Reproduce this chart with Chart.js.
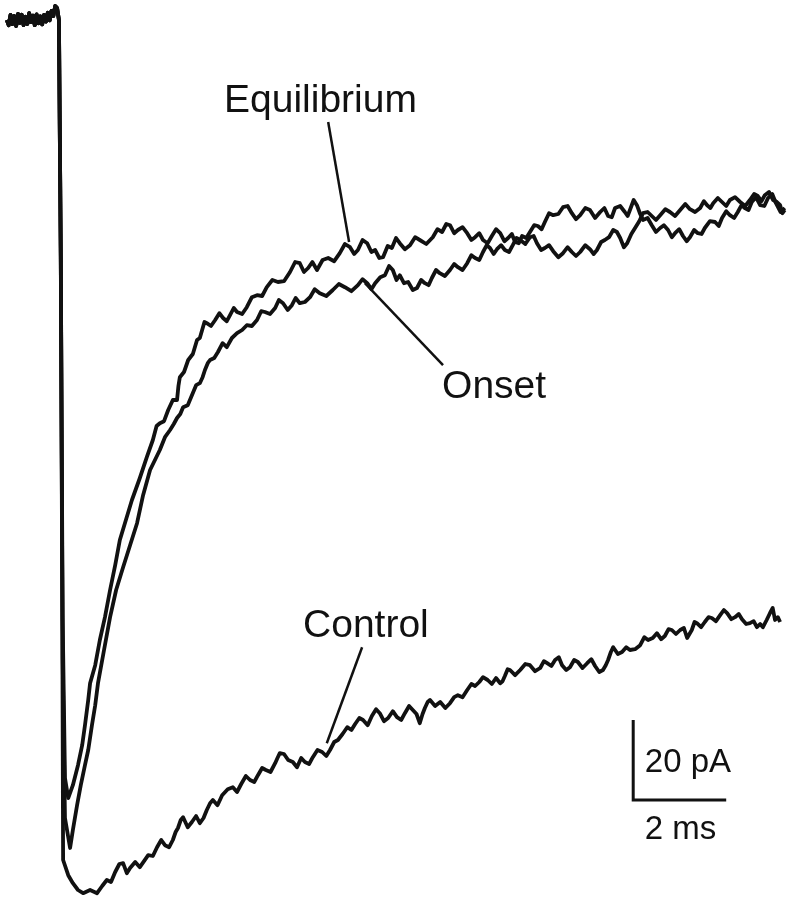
<!DOCTYPE html>
<html>
<head>
<meta charset="utf-8">
<script src="https://cdn.jsdelivr.net/npm/chart.js@4/dist/chart.umd.min.js"></script>
<style>
  body { margin: 0; background: #fff; }
  canvas { display: block; }
</style>
</head>
<body>
<canvas id="traceChart" width="788" height="899"></canvas>
<script>
// time in ms (0 = step), current in pA (0 = holding baseline)
const baseTime    = [-1.10, -1.06, -1.02, -0.98, -0.94, -0.90, -0.86, -0.82, -0.78, -0.74, -0.70, -0.66, -0.62, -0.58, -0.54, -0.50, -0.46, -0.42, -0.38, -0.34, -0.30, -0.26, -0.22, -0.18, -0.14, -0.10, -0.06, -0.02, 0.02];
const baseCurrent = [-0.5, -1.8, 0.8, -1.5, 0.5, -2.0, 1.0, -1.2, 0.8, -1.8, 0.3, -1.5, 1.2, -1.0, 0.6, -1.8, 0.9, -1.3, 0.4, -1.6, 0.8, -0.9, 1.3, -0.6, 1.8, 0.5, 3.0, 2.5, -0.5];

const eqTime = [0.06, 0.10, 0.15, 0.22, 0.32, 0.43, 0.52, 0.58, 0.65, 0.69, 0.80, 0.90, 1.01, 1.12, 1.23, 1.33, 1.46, 1.59, 1.76, 1.91,
    2.04, 2.12, 2.19, 2.28, 2.37, 2.47, 2.56, 2.59, 2.62, 2.71, 2.80, 2.90, 2.99, 3.05, 3.10, 3.15, 3.20, 3.29, 3.38, 3.47,
    3.55, 3.63, 3.70, 3.78, 3.85, 3.96, 4.06, 4.17, 4.28, 4.39, 4.49, 4.61, 4.73, 4.86, 4.99, 5.10, 5.20, 5.29, 5.38, 5.47,
    5.57, 5.69, 5.81, 5.94, 6.06, 6.17, 6.28, 6.37, 6.45, 6.55, 6.65, 6.74, 6.82, 6.91, 6.99, 7.09, 7.18, 7.27, 7.35, 7.46,
    7.57, 7.68, 7.78, 7.92, 8.06, 8.16, 8.26, 8.35, 8.43, 8.52, 8.60, 8.70, 8.80, 8.89, 8.97, 9.06, 9.14, 9.24, 9.33, 9.42,
    9.51, 9.60, 9.68, 9.76, 9.83, 9.91, 9.98, 10.07, 10.15, 10.24, 10.32, 10.40, 10.47, 10.56, 10.65, 10.76, 10.86, 10.96, 11.05, 11.14,
    11.23, 11.34, 11.44, 11.55, 11.66, 11.75, 11.83, 11.91, 11.98, 12.09, 12.19, 12.25, 12.30, 12.38, 12.45, 12.52, 12.58, 12.68, 12.77, 12.86,
    12.95, 13.03, 13.12, 13.20, 13.27, 13.36, 13.44, 13.52, 13.59, 13.68, 13.76, 13.84, 13.91, 14.02, 14.13, 14.21, 14.28, 14.37, 14.45, 14.54,
    14.62, 14.70, 14.77, 14.85, 14.92, 15.01, 15.10, 15.19, 15.27, 15.36, 15.44, 15.54, 15.63];
const eqCurrent = [-60, -150, -190, -195, -191.8, -186.8, -181.8, -176.8, -170.5, -166.3, -161.8, -155.5, -149.8, -143, -136.8, -130.5, -125.5, -120.5, -115, -109.8,
    -105.5, -102.0, -101.3, -100.8, -98, -95.5, -95.5, -92.0, -89.8, -88.5, -85.5, -84.0, -80.5, -80.0, -78, -76.0, -76.3, -77.0, -75.5, -73.8,
    -75, -75.8, -74.3, -72.5, -73.5, -74.0, -72.3, -69.8, -69.3, -69.5, -67.3, -65.5, -66, -65.8, -63.5, -61.0, -61.3, -63.5, -62.5, -61.0,
    -63, -60.5, -60, -60.8, -58.8, -56.5, -57.3, -59.0, -58, -55.5, -56.3, -58.5, -58, -60.0, -59.8, -57.0, -57.5, -55.0, -56.3, -57.8,
    -56.8, -54.8, -55.5, -56.5, -54.8, -52.8, -53.5, -51.5, -51.8, -53.8, -53, -52.3, -53.8, -55.5, -54.8, -53.8, -55.5, -56.3, -54.5, -52.8,
    -53.8, -55.8, -55, -54.0, -56, -56.3, -54.5, -55.0, -53.5, -51.8, -52, -52.8, -51, -48.8, -49.3, -49.0, -47.3, -47.0, -48.8, -50.3,
    -49.3, -47.5, -48, -50.0, -48.5, -47.5, -49.5, -49.8, -47.5, -47.0, -48.5, -49.5, -48, -45.5, -46.8, -49.0, -50.5, -50.0, -51.8, -53.5,
    -52.5, -51.8, -53, -54.8, -53.8, -52.8, -54.5, -55.8, -54.8, -53.0, -53.8, -54.0, -52.5, -50.8, -51, -52.0, -50, -48.3, -49.3, -50.0,
    -48.5, -46.8, -47.5, -48.0, -46, -44.8, -46.8, -47.0, -45, -44.0, -46.3, -48.5, -47.5];

const onTime = [0.06, 0.10, 0.15, 0.26, 0.32, 0.41, 0.49, 0.58, 0.65, 0.73, 0.80, 0.86, 0.99, 1.12, 1.25, 1.40, 1.55, 1.70, 1.83, 1.98,
    2.19, 2.30, 2.41, 2.49, 2.56, 2.63, 2.69, 2.79, 2.88, 2.97, 3.05, 3.11, 3.16, 3.22, 3.27, 3.36, 3.44, 3.54, 3.63, 3.74,
    3.85, 3.96, 4.06, 4.17, 4.28, 4.37, 4.45, 4.56, 4.67, 4.75, 4.84, 4.94, 5.03, 5.11, 5.20, 5.31, 5.42, 5.52, 5.63, 5.77,
    5.91, 6.04, 6.17, 6.31, 6.45, 6.55, 6.65, 6.74, 6.82, 6.93, 7.03, 7.12, 7.20, 7.28, 7.35, 7.44, 7.53, 7.63, 7.72, 7.81,
    7.89, 7.97, 8.04, 8.13, 8.21, 8.32, 8.43, 8.52, 8.60, 8.70, 8.80, 8.89, 8.97, 9.06, 9.14, 9.22, 9.29, 9.37, 9.44, 9.53,
    9.61, 9.70, 9.78, 9.86, 9.94, 10.05, 10.15, 10.23, 10.30, 10.39, 10.47, 10.56, 10.65, 10.76, 10.86, 10.96, 11.05, 11.14, 11.23, 11.34,
    11.44, 11.52, 11.59, 11.68, 11.76, 11.85, 11.94, 12.02, 12.09, 12.17, 12.24, 12.33, 12.41, 12.50, 12.58, 12.68, 12.77, 12.86, 12.95, 13.06,
    13.16, 13.27, 13.38, 13.49, 13.59, 13.70, 13.81, 13.89, 13.96, 14.03, 14.09, 14.19, 14.28, 14.37, 14.45, 14.56, 14.67, 14.78, 14.88, 14.97,
    15.05, 15.13, 15.20, 15.29, 15.38, 15.46, 15.53, 15.58, 15.63];
const onCurrent = [-60, -160, -200, -207.5, -203, -196.8, -191.8, -186.8, -183, -176.8, -171.8, -166.3, -158, -149.8, -143, -137.3, -131.8, -126.3, -119.3, -113,
    -108, -104.8, -103, -101.5, -100, -99.0, -97.3, -96.8, -94.3, -91.8, -91.3, -89.8, -88, -86.3, -85.5, -85.0, -83.5, -81.3, -82.3, -80.0,
    -78.8, -78.0, -76.8, -77.0, -75.5, -73.3, -73.5, -74.0, -72.5, -70.5, -71.3, -73.0, -71.8, -70.0, -71.3, -71.0, -69.8, -67.8, -68.8, -69.5,
    -68, -66.5, -67.3, -68.3, -66.8, -65.3, -66.3, -67.8, -66.3, -64.8, -64.3, -62.0, -63, -65.5, -64.3, -66.3, -66, -68.0, -67.5, -65.5,
    -66.3, -66.8, -65, -63.0, -63.8, -64.5, -63, -61.5, -62.3, -63.0, -61.3, -59.3, -60, -60.5, -58.5, -56.8, -57.5, -59.0, -57.8, -56.8,
    -58, -58.5, -56.8, -55.0, -55.5, -56.5, -54.8, -54.5, -56.3, -58.0, -57.5, -56.8, -58.3, -59.8, -58.8, -57.3, -58.5, -59.5, -58.5, -56.8,
    -57.8, -59.0, -58, -56.0, -55.5, -54.8, -53, -53.5, -55, -57.3, -56.3, -54.0, -52.5, -50.8, -48.8, -48.5, -49.5, -50.5, -49.3, -47.8,
    -48.5, -49.5, -48, -46.5, -47.8, -48.5, -47.5, -45.8, -46.8, -47.5, -46.3, -45.0, -46, -47.0, -45.5, -44.8, -46, -47.0, -45.5, -44.0,
    -44.5, -45.8, -44.3, -43.5, -45.5, -46.0, -46.8, -48.8, -48];

const ctlTime = [0.06, 0.09, 0.11, 0.22, 0.32, 0.43, 0.54, 0.69, 0.84, 0.95,
    1.05, 1.14, 1.23, 1.32, 1.40, 1.48, 1.55, 1.66, 1.76, 1.85, 1.94, 2.04, 2.13, 2.22, 2.30, 2.39, 2.47, 2.53, 2.58, 2.64,
    2.69, 2.79, 2.88, 2.97, 3.05, 3.13, 3.20, 3.27, 3.33, 3.43, 3.53, 3.65, 3.76, 3.85, 3.94, 4.04, 4.13, 4.22, 4.30, 4.39,
    4.47, 4.57, 4.67, 4.72, 4.77, 4.86, 4.95, 5.05, 5.14, 5.23, 5.31, 5.40, 5.48, 5.58, 5.68, 5.77, 5.85, 5.94, 6.02, 6.12,
    6.22, 6.31, 6.39, 6.48, 6.56, 6.66, 6.75, 6.84, 6.92, 7.01, 7.10, 7.20, 7.29, 7.38, 7.46, 7.55, 7.63, 7.71, 7.78, 7.84,
    7.89, 7.95, 8.00, 8.11, 8.22, 8.33, 8.43, 8.52, 8.60, 8.70, 8.80, 8.89, 8.97, 9.06, 9.14, 9.24, 9.33, 9.42, 9.51, 9.56,
    9.61, 9.67, 9.72, 9.83, 9.94, 10.05, 10.15, 10.26, 10.37, 10.45, 10.52, 10.61, 10.69, 10.77, 10.84, 10.93, 11.01, 11.10, 11.18, 11.28,
    11.38, 11.47, 11.55, 11.64, 11.72, 11.78, 11.83, 11.89, 11.94, 12.04, 12.13, 12.22, 12.30, 12.41, 12.52, 12.61, 12.69, 12.79, 12.88, 12.97,
    13.05, 13.13, 13.20, 13.29, 13.38, 13.46, 13.53, 13.58, 13.63, 13.69, 13.74, 13.83, 13.91, 13.99, 14.06, 14.15, 14.24, 14.32, 14.39, 14.48,
    14.56, 14.64, 14.71, 14.80, 14.88, 14.96, 15.03, 15.10, 15.16, 15.24, 15.31, 15.37, 15.42, 15.48, 15.53];
const ctlCurrent = [-60, -140, -210.5, -214.3, -216.3, -218, -218.8, -218, -218.8, -217,
    -215.5, -216.0, -213.5, -211.5, -211.3, -213.8, -212.5, -211.0, -212.3, -210.8, -209.3, -209.5, -207.3, -205.5, -206.8, -207.3, -205.5, -203.5, -202.5, -200.5,
    -199.8, -202.3, -201, -199.5, -201.3, -200.0, -198, -196.3, -195.5, -196.8, -194.3, -192.8, -192.3, -193.5, -191.5, -189.5, -190.5, -191.0, -189.3, -187.5,
    -188, -188.5, -186.3, -185.0, -183.8, -184.0, -185.5, -186.0, -187.3, -185.0, -186, -186.5, -184.8, -183.0, -183.5, -184.5, -183, -181.0, -180.5, -179.0,
    -177.3, -178.0, -176.5, -175.0, -175.5, -176.8, -174.5, -172.8, -173.8, -175.8, -175, -173.3, -174.8, -175.5, -173.8, -172.0, -173, -174.0, -176.3, -174.0,
    -172.5, -171.0, -170.5, -172.0, -171, -172.5, -171.3, -169.8, -169.3, -169.8, -168, -166.5, -167, -166.0, -164.8, -165.5, -166.5, -165.0, -166.3, -165.8,
    -164.5, -162.8, -163, -164.3, -163, -161.5, -161.8, -163.3, -162.5, -160.8, -161.3, -162.0, -160.5, -159.8, -161.8, -163.0, -162.3, -160.5, -161, -162.5,
    -161.3, -160.3, -162, -163.5, -163, -161.8, -160.5, -158.5, -157.3, -159.0, -158.5, -157.3, -158, -157.8, -156.8, -154.8, -155.5, -155.0, -153.8, -155.3,
    -154.5, -152.8, -153, -154.0, -153, -152.5, -155, -154.0, -153, -151.0, -151.3, -152.3, -151, -149.8, -150, -150.8, -149.3, -148.0, -148.8, -150.3,
    -149.8, -149.0, -150.3, -151.5, -151.3, -150.8, -152.3, -151.5, -152.3, -150.5, -148.8, -147.5, -150.5, -149.8, -151];

// labels: text, anchor time (ms), anchor current (pA), leader line end points
const labelNames = ['Equilibrium', 'Onset', 'Control'];
const labelTime = [3.57, 8.26, 5.27];
const labelCurrent = [-23.5, -95, -154.8];
const leaderFrom = [[5.81, -26], [8.28, -86.8], [6.54, -157.3]];
const leaderTo = [[6.26, -56], [6.60, -66.3], [5.78, -181.3]];

// scale bar
const barOrigin = [12.37, -195.5];
const barTime = 2;      // ms
const barCurrent = 20;  // pA

function toPoints(t, v) {
    const all = baseTime.concat(t);
    const vals = baseCurrent.concat(v);
    return all.map((x, i) => ({ x: x, y: vals[i] }));
}

const ink = '#111111';

const annotations = {
    id: 'annotations',
    afterDatasetsDraw(chart) {
        const c = chart.ctx;
        const xs = chart.scales.x, ys = chart.scales.y;
        const px = v => xs.getPixelForValue(v);
        const py = v => ys.getPixelForValue(v);
        c.save();
        c.strokeStyle = ink;
        c.fillStyle = ink;
        c.lineCap = 'butt';

        // leader lines
        c.lineWidth = 2.5;
        for (let i = 0; i < leaderFrom.length; i++) {
            c.beginPath();
            c.moveTo(px(leaderFrom[i][0]), py(leaderFrom[i][1]));
            c.lineTo(px(leaderTo[i][0]), py(leaderTo[i][1]));
            c.stroke();
        }

        // labels
        c.font = '39px "Liberation Sans", Arial, sans-serif';
        c.textBaseline = 'alphabetic';
        c.textAlign = 'left';
        labelNames.forEach((name, i) => {
            c.fillText(name, px(labelTime[i]), py(labelCurrent[i]));
        });

        // scale bar
        const x0 = px(barOrigin[0]), y0 = py(barOrigin[1]);
        const x1 = px(barOrigin[0] + barTime), y1 = py(barOrigin[1] + barCurrent);
        c.lineWidth = 3;
        c.beginPath();
        c.moveTo(x0, y1);
        c.lineTo(x0, y0);
        c.lineTo(x1, y0);
        c.stroke();

        c.font = '33px "Liberation Sans", Arial, sans-serif';
        c.fillText(barCurrent + ' pA', px(12.62), py(-188.5));
        c.fillText(barTime + ' ms', px(12.62), py(-205.3));
        c.restore();
    }
};

const ctx = document.getElementById('traceChart').getContext('2d');
new Chart(ctx, {
    type: 'line',
    data: {
        datasets: [
            { label: 'Control', data: toPoints(ctlTime, ctlCurrent) },
            { label: 'Onset', data: toPoints(onTime, onCurrent) },
            { label: 'Equilibrium', data: toPoints(eqTime, eqCurrent) }
        ].map(d => Object.assign(d, {
            borderColor: ink,
            borderWidth: 3.8,
            pointRadius: 0,
            tension: 0,
            fill: false,
            borderJoinStyle: 'round'
        }))
    },
    options: {
        responsive: false,
        animation: false,
        layout: { padding: 0 },
        plugins: {
            legend: { display: false },
            tooltip: { enabled: false }
        },
        scales: {
            x: { type: 'linear', display: false, min: -1.2473, max: 15.699 },
            y: { type: 'linear', display: false, min: -220.25, max: 4.5 }
        }
    },
    plugins: [annotations]
});
</script>
</body>
</html>
